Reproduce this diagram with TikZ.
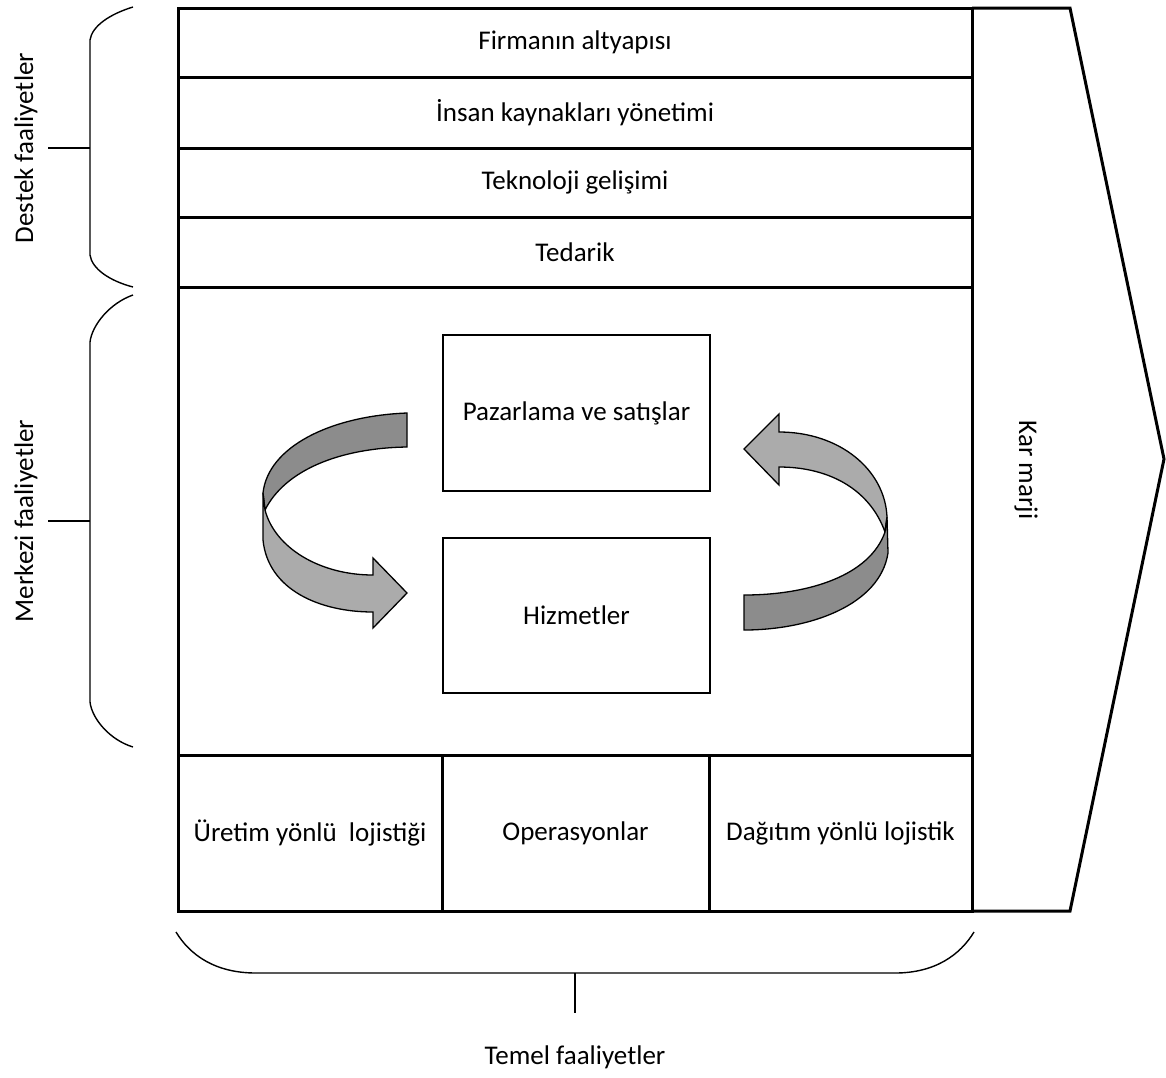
\documentclass[tikz,border=0pt]{standalone}
\usepackage{fontspec}
\setmainfont{Carlito}
\begin{document}
\begin{tikzpicture}[x=1pt,y=-1pt,
  every node/.style={font=\fontsize{27}{32}\selectfont},
  rowbox/.style={draw, line width=3pt, inner sep=0pt},
  innerbox/.style={draw, line width=2pt, inner sep=0pt},
  bracel/.style={line width=1.4pt},
  ribbondark/.style={draw, line width=1.3pt, fill=black!45},
  ribbonlight/.style={draw, line width=1.3pt, fill=black!33},
]
\useasboundingbox (0,0) rectangle (1166,1077);

% margin arrow
\draw[line width=3pt, line join=miter] (972,8) -- (1070,8) -- (1164,459) -- (1070,911) -- (972,911);
\node[rotate=-90] (kar) at (1026,470) {Kar marji};

% support rows
\node[rowbox, minimum width=794pt, minimum height=69pt] (firma) at (575,42.5) {Firmanın altyapısı};
\node[rowbox, minimum width=794pt, minimum height=71pt] (insan) at (575,112.5) {İnsan kaynakları yönetimi};
\node[rowbox, minimum width=794pt, minimum height=69pt] (tekno) at (575,182.5) {Teknoloji gelişimi};
\node[rowbox, minimum width=794pt, minimum height=70pt] (tedarik) at (575,252) {Tedarik};
% central area
\node[rowbox, minimum width=794pt, minimum height=468pt] (merkez) at (575,521) {};
% bottom row
\node[rowbox, minimum width=264pt, minimum height=156pt] (uretim) at (310,833) {Üretim yönlü\ \ lojistiği};
\node[rowbox, minimum width=267pt, minimum height=156pt] (oper) at (575.5,833) {Operasyonlar};
\node[rowbox, minimum width=263pt, minimum height=156pt] (dagitim) at (840.5,833) {Dağıtım yönlü lojistik};

% inner boxes
\node[innerbox, minimum width=267pt, minimum height=156pt] (pazar) at (576.5,413) {Pazarlama ve satışlar};
\node[innerbox, minimum width=267pt, minimum height=155pt] (hizmet) at (576.5,615.5) {Hizmetler};

% left ribbon arrow
\draw[ribbondark] (407,413) .. controls (330,416) and (268,447) .. (263,493)
  -- (265,510) .. controls (285,470) and (340,448) .. (407,447) -- cycle;
\draw[ribbonlight] (265,510) -- (263,493) -- (263,540)
  .. controls (268,590) and (320,612) .. (373,612) -- (373,628) -- (407,593)
  -- (373,558) -- (373,575) .. controls (320,575) and (275,548) .. (265,510) -- cycle;

% right ribbon arrow
\draw[ribbonlight] (744,449) -- (779,414) -- (779,432)
  .. controls (840,432) and (885,470) .. (887,517) -- (885,532)
  .. controls (870,490) and (830,467) .. (779,467) -- (779,485) -- cycle;
\draw[ribbondark] (885,532) -- (887,517) -- (888,553)
  .. controls (880,605) and (810,630) .. (744,630) -- (744,595)
  .. controls (810,595) and (870,575) .. (885,532) -- cycle;

% left braces
\draw[bracel] (133,7) .. controls (110,14) and (92,26) .. (90,40) -- (90,255)
  .. controls (92,269) and (110,281) .. (133,287);
\coordinate (dtick) at (48,148);
\draw[bracel] (dtick) -- (90,148);
\node[rotate=90] (destek) at (26,148) {Destek faaliyetler};

\draw[bracel] (133,295) .. controls (110,303) and (92,325) .. (90,342) -- (90,702)
  .. controls (92,719) and (110,740) .. (133,747);
\coordinate (mtick) at (48,521);
\draw[bracel] (mtick) -- (90,521);
\node[rotate=90] (merkezi) at (26,521) {Merkezi faaliyetler};

% bottom brace
\draw[bracel] (176,932) .. controls (190,955) and (215,973) .. (256,973) -- (895,973)
  .. controls (935,973) and (960,955) .. (974,932);
\coordinate (ttick) at (575,1013);
\draw[bracel] (575,973) -- (ttick);
\node (temel) at (575,1057) {Temel faaliyetler};
\end{tikzpicture}
\end{document}
